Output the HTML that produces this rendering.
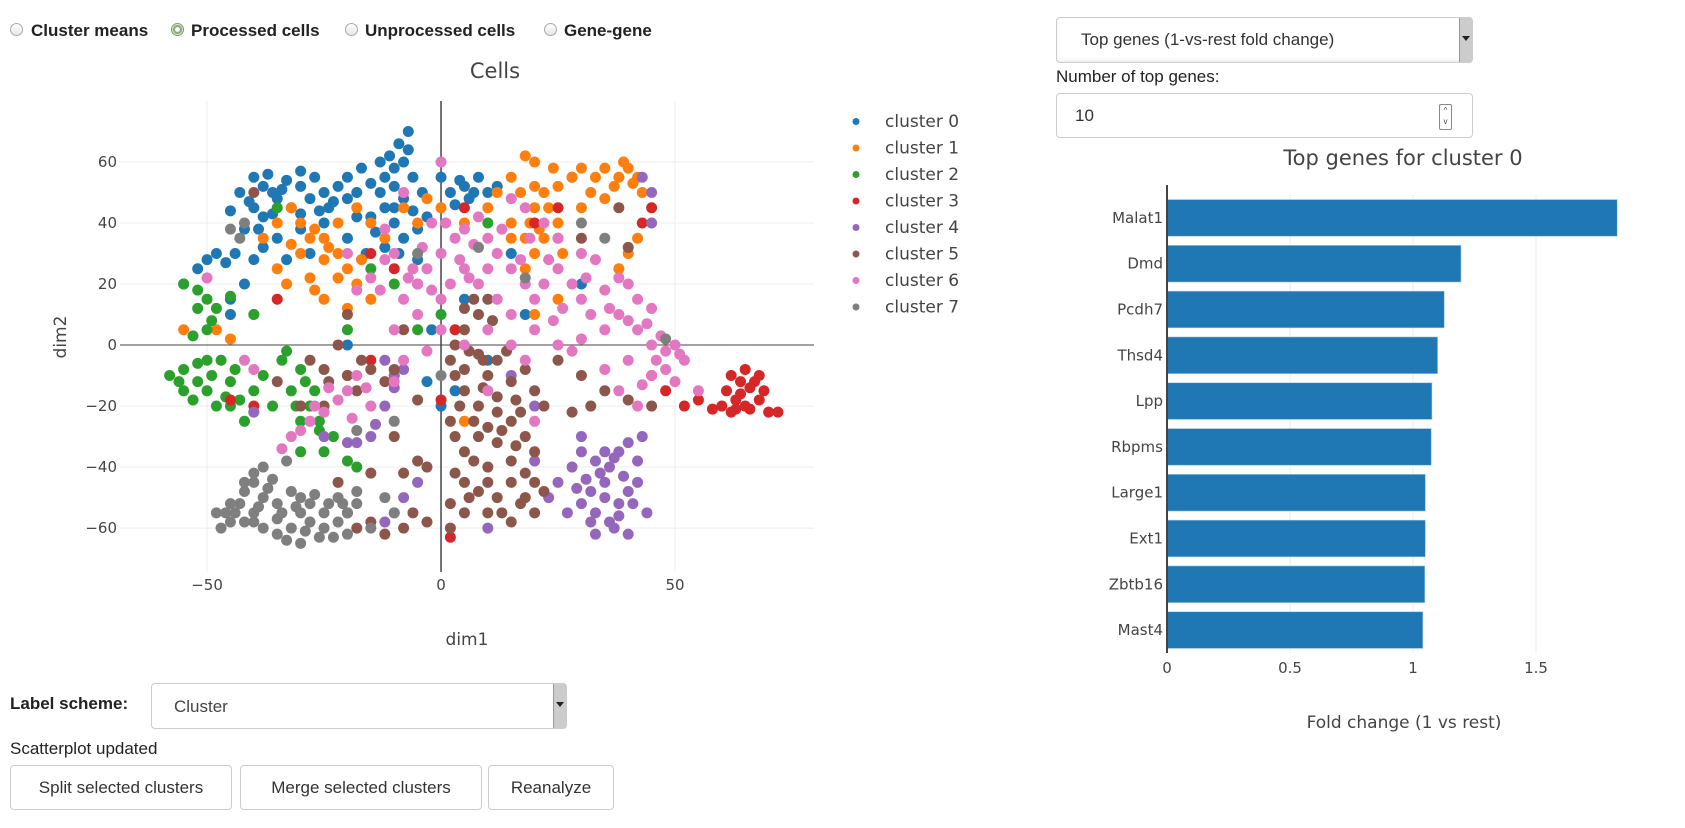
<!DOCTYPE html>
<html><head><meta charset="utf-8">
<style>
body{margin:0;width:1685px;height:828px;background:#fff;position:relative;overflow:hidden;font-family:"Liberation Sans",sans-serif;color:#333}
.abs{position:absolute}
.radio{position:absolute;top:23px;width:13px;height:13px;border:1px solid #aaa;border-radius:50%;background:linear-gradient(#fff,#e6e6e6);box-sizing:border-box}
.rlab{position:absolute;top:21px;font-weight:bold;font-size:17px;color:#222}
.box{position:absolute;border:1px solid #ccc;border-radius:4px;background:#fff;box-sizing:border-box}
.btn{position:absolute;top:765px;height:45px;border:1px solid #ccc;border-radius:4px;background:#fff;box-sizing:border-box;font-size:17px;color:#333;display:flex;align-items:center;justify-content:center}
svg text{font-family:"DejaVu Sans",sans-serif}
</style></head><body>
<div class="radio" style="left:10px"></div>
<div class="rlab" style="left:31px">Cluster means</div>
<div class="radio" style="left:171px;border-color:#7a9a6a;background:radial-gradient(circle,#fff 25%,#8fae7e 35%,#8fae7e 55%,#e8eee4 65%)"></div>
<div class="rlab" style="left:191px">Processed cells</div>
<div class="radio" style="left:345px"></div>
<div class="rlab" style="left:365px">Unprocessed cells</div>
<div class="radio" style="left:544px"></div>
<div class="rlab" style="left:564px">Gene-gene</div>

<div class="box" style="left:1056px;top:17px;width:417px;height:46px;box-shadow:inset 0 -2px 3px #eee">
 <span class="abs" style="left:24px;top:12px;font-size:17px;color:#333">Top genes (1-vs-rest fold change)</span>
 <span class="abs" style="right:0;top:0;width:12px;height:44px;background:#ccc;border-left:1px solid #999"></span>
 <span class="abs" style="right:2px;top:18px;width:0;height:0;border-left:4px solid transparent;border-right:4px solid transparent;border-top:5px solid #222"></span>
</div>
<div class="abs" style="left:1056px;top:67px;font-size:17px;color:#222">Number of top genes:</div>
<div class="box" style="left:1056px;top:93px;width:417px;height:45px">
 <span class="abs" style="left:18px;top:12px;font-size:17px;color:#333">10</span>
 <span class="abs" style="left:382px;top:10px;width:11px;height:24px;border:1px solid #888;border-radius:2px;font-size:8px;line-height:11px;text-align:center;color:#444">^<br>v</span>
</div>

<div class="abs" style="left:10px;top:694px;font-weight:bold;font-size:17px;color:#222">Label scheme:</div>
<div class="box" style="left:151px;top:683px;width:416px;height:46px">
 <span class="abs" style="left:22px;top:13px;font-size:17px;color:#444">Cluster</span>
 <span class="abs" style="right:0;top:0;width:12px;height:44px;background:#ccc;border-left:1px solid #999"></span>
 <span class="abs" style="right:2px;top:18px;width:0;height:0;border-left:4px solid transparent;border-right:4px solid transparent;border-top:5px solid #222"></span>
</div>
<div class="abs" style="left:10px;top:739px;font-size:17px;color:#222">Scatterplot updated</div>
<div class="btn" style="left:10px;width:222px">Split selected clusters</div>
<div class="btn" style="left:240px;width:242px">Merge selected clusters</div>
<div class="btn" style="left:488px;width:126px">Reanalyze</div>

<svg id="chart" class="abs" style="left:0;top:0" width="1685" height="828"></svg>

<script>
// ---- scatter data ----
const clusterNames=["cluster 0","cluster 1","cluster 2","cluster 3","cluster 4","cluster 5","cluster 6","cluster 7"];
const clusterColors=["#1f77b4","#ff7f0e","#2ca02c","#d62728","#9467bd","#8c564b","#e377c2","#7f7f7f"];
const xTicks=[-50,0,50];
const yTicks=[-60,-40,-20,0,20,40,60];
const c0=[[-40,55],[-37,56],[-33,54],[-30,52],[-35,48],[-40,45],[-43,50],[-38,42],[-32,45],[-28,48],[-25,50],[-22,52],[-20,55],[-18,50],[-15,53],[-12,55],[-10,58],[-8,60],[-11,62],[-9,66],[-7,70],[-13,60],[-6,55],[-4,50],[-8,48],[-12,45],[-15,42],[-10,40],[-5,38],[-8,35],[-12,32],[-16,30],[-20,35],[-25,40],[-30,38],[-35,35],[-28,30],[-33,28],[-38,32],[-42,38],[-45,44],[-48,30],[-50,28],[-52,25],[-55,20],[-45,15],[-42,20],[2,50],[5,52],[8,55],[6,48],[10,50],[12,52],[-3,42],[-5,28],[15,30],[25,35],[30,20],[18,10],[5,15],[-2,5],[10,-5],[0,-20],[-20,0],[-45,10],[28,55],[-18,42],[-24,45],[-36,50],[-30,57],[-3,-12],[3,-15],[-38,52],[-34,51],[-27,55],[-23,47],[-41,47],[-36,43],[-30,43],[-13,50],[-10,52],[-7,64],[-10,45],[-6,44],[-14,37],[-9,30],[-26,44],[-44,30],[-46,27],[-40,28],[0,55],[4,54],[7,50],[3,46],[-39,38],[-20,48],[-17,58]];
const c1=[[-30,40],[-27,38],[-25,35],[-22,30],[-20,25],[-25,28],[-30,30],[-35,25],[-33,20],[-28,22],[-18,20],[-15,15],[-20,12],[-25,15],[-35,40],[-38,35],[-15,40],[-12,35],[-18,45],[-8,45],[-5,40],[-3,48],[0,45],[5,40],[10,45],[15,40],[18,35],[20,45],[22,50],[25,52],[28,55],[30,58],[32,50],[38,55],[40,58],[42,55],[43,50],[35,48],[30,45],[25,40],[22,35],[20,30],[18,25],[15,35],[12,50],[18,62],[20,60],[15,55],[40,30],[38,25],[25,15],[-48,5],[-45,2],[-55,5],[-40,10],[-10,-10],[5,-25],[20,10],[42,35],[-32,45],[-22,40],[35,58],[20,52],[-28,35],[-24,32],[-32,33],[-22,22],[-27,18],[-17,28],[19,40],[23,45],[17,50],[21,38],[37,52],[41,53],[39,60],[33,55],[26,30],[24,58]];
const c2=[[-58,-10],[-55,-8],[-52,-12],[-50,-15],[-53,-18],[-48,-20],[-45,-12],[-47,-5],[-50,-5],[-55,-15],[-45,-20],[-43,-18],[-40,-15],[-38,-10],[-40,-22],[-36,-20],[-34,-5],[-30,-8],[-32,-15],[-28,-20],[-30,-25],[-25,-22],[-27,-15],[-33,-2],[-55,20],[-52,18],[-50,15],[-48,12],[-45,16],[-40,10],[-50,5],[-53,3],[-42,-25],[-25,-35],[-20,-38],[-18,-40],[-30,-35],[-10,20],[-15,25],[-20,5],[10,40],[-35,45],[-5,5],[0,10],[-26,-28],[-23,-30],[-56,-12],[-52,-6],[-49,-10],[-46,-17],[-44,-8],[-31,-20],[-29,-12],[-26,-25],[-52,12],[-49,8]];
const c3=[[62,-10],[65,-8],[68,-10],[66,-14],[63,-18],[60,-20],[58,-21],[62,-22],[65,-20],[68,-18],[70,-22],[72,-22],[64,-12],[67,-12],[55,-18],[52,-20],[48,-15],[45,-10],[-40,-20],[-45,-18],[-15,-5],[-20,-10],[-10,25],[-5,20],[20,40],[25,45],[43,40],[45,45],[2,-63],[0,-18],[-35,15],[-15,30],[5,45],[3,5],[64,-16],[61,-15],[66,-21],[69,-15],[63,-21]];
const c4=[[30,-35],[33,-38],[36,-40],[38,-35],[40,-32],[42,-38],[43,-30],[35,-45],[32,-48],[30,-52],[33,-55],[36,-58],[38,-52],[40,-48],[42,-45],[28,-40],[25,-45],[23,-50],[27,-55],[37,-60],[40,-62],[33,-62],[44,-55],[30,-30],[20,-38],[-15,-30],[-18,-32],[-12,-20],[-10,-10],[-8,-8],[-12,-5],[-20,-32],[-25,-30],[-5,-45],[-8,-50],[-10,-55],[-12,-58],[45,50],[45,40],[43,55],[15,-10],[20,-20],[10,-60],[-40,-22],[34,-42],[37,-37],[39,-43],[31,-44],[35,-50],[38,-56],[32,-58],[29,-47],[41,-52],[35,-35],[-14,-26],[-10,-14]];
const c5=[[2,-5],[5,-8],[8,-3],[10,-10],[12,-5],[15,-12],[18,-8],[20,-15],[22,-20],[5,-15],[8,-20],[12,-22],[15,-25],[18,-30],[20,-35],[15,-38],[10,-40],[5,-35],[3,-30],[2,-25],[8,-30],[12,-32],[5,-45],[8,-48],[12,-50],[15,-45],[18,-42],[22,-48],[20,-55],[15,-58],[5,-55],[2,-52],[10,-55],[5,5],[8,10],[10,15],[5,12],[-3,-40],[-5,-38],[-8,-42],[-3,-58],[-8,-60],[-12,-62],[-15,-58],[-20,-55],[-22,-45],[-28,-5],[-25,-8],[-22,0],[-20,-10],[-18,-15],[-15,-8],[-12,-12],[-25,-20],[-10,-30],[-30,-20],[-35,-12],[-20,10],[-8,5],[-40,50],[38,45],[40,32],[30,35],[35,-15],[40,-18],[45,-20],[28,-22],[32,-20],[25,-5],[30,-10],[-15,-42],[-5,-18],[17,-52],[3,-10],[6,-2],[9,-14],[12,-17],[16,-18],[4,-20],[7,-25],[10,-27],[13,-28],[16,-33],[7,-38],[3,-42],[10,-45],[6,-50],[13,-55],[2,-60],[9,-5],[14,-2],[17,-22],[3,0],[7,15],[11,8],[20,-45],[18,-50],[-10,-8],[-24,-12],[-17,-5],[-6,-55],[-18,-60]];
const c6=[[-8,15],[-5,20],[-3,25],[0,30],[3,35],[5,38],[8,42],[10,35],[12,30],[15,25],[18,20],[20,15],[15,10],[10,5],[5,0],[0,5],[-5,10],[-10,5],[-3,-2],[0,15],[8,20],[12,15],[22,20],[25,25],[28,20],[30,15],[32,10],[35,18],[38,22],[40,20],[42,15],[45,12],[40,8],[35,5],[30,2],[28,-2],[25,0],[20,5],[18,-5],[15,0],[42,5],[45,0],[48,-2],[50,0],[52,-5],[48,-8],[45,-10],[50,-12],[55,-15],[40,-5],[35,-8],[25,35],[22,40],[18,45],[15,48],[-10,30],[-12,28],[-15,22],[-18,18],[-20,-15],[-22,-18],[-25,-22],[-28,-25],[-30,-28],[-18,-10],[-15,-20],[-10,-12],[-8,-5],[-40,-8],[-42,-5],[-50,22],[-20,30],[-12,38],[-8,50],[0,60],[5,25],[-2,40],[30,30],[33,28],[38,10],[20,-25],[10,-15],[42,-20],[38,-15],[-32,-30],[-34,-34],[2,20],[4,28],[7,33],[6,22],[10,25],[13,38],[-2,18],[-6,25],[1,40],[-4,32],[-7,22],[-13,18],[17,28],[23,28],[26,12],[31,22],[36,12],[44,7],[47,3],[51,-3],[46,-5],[43,-13],[-24,-14],[-27,-20],[-19,-24],[-16,-14],[24,8],[19,35]];
const c7=[[-48,-55],[-45,-52],[-42,-48],[-40,-45],[-38,-50],[-35,-52],[-32,-48],[-30,-50],[-28,-52],[-25,-55],[-22,-58],[-20,-55],[-18,-52],[-22,-50],[-28,-58],[-32,-60],[-35,-62],[-38,-60],[-42,-58],[-45,-58],[-47,-60],[-40,-55],[-35,-57],[-30,-55],[-25,-60],[-20,-62],[-15,-60],[-18,-48],[-12,-50],[-10,-55],[-38,-40],[-40,-42],[-42,-45],[-33,-38],[-43,35],[-45,38],[-42,40],[-18,-28],[-10,-25],[0,-10],[18,22],[-5,30],[8,32],[30,40],[35,35],[48,2],[-30,-65],[-26,-63],[-44,-55],[-43,-52],[-37,-47],[-34,-55],[-31,-53],[-27,-49],[-24,-52],[-23,-63],[-29,-61],[-40,-58],[-46,-55],[-33,-64],[-39,-53],[-36,-44],[-21,-52]];
const clusterPoints=[c0,c1,c2,c3,c4,c5,c6,c7];
// ---- bar data ----
const genes=["Malat1","Dmd","Pcdh7","Thsd4","Lpp","Rbpms","Large1","Ext1","Zbtb16","Mast4"];
const foldChange=[1.83,1.195,1.127,1.10,1.077,1.074,1.05,1.05,1.048,1.04];
const barTicks=[0,0.5,1,1.5];
const barTickLabels=["0","0.5","1","1.5"];

const svg=document.getElementById('chart');
const NS='http://www.w3.org/2000/svg';
function mk(tag,attrs,parent){const e=document.createElementNS(NS,tag);for(const k in attrs)e.setAttribute(k,attrs[k]);(parent||svg).appendChild(e);return e;}

const SX={l:120,r:814,t:101,b:572,x0:-68.6,x1:79.7,y0:-74.4,y1:80};
const sx=v=>SX.l+(v-SX.x0)/(SX.x1-SX.x0)*(SX.r-SX.l);
const sy=v=>SX.b-(v-SX.y0)/(SX.y1-SX.y0)*(SX.b-SX.t);
const gs=mk('g',{});


xTicks.forEach(t=>{
 if(t!==0){const l=mk('line',{x1:sx(t),x2:sx(t),y1:SX.t,y2:SX.b,stroke:'#eee','stroke-width':1},gs);
 }
 const tx=mk('text',{x:sx(t),y:SX.b+18,'text-anchor':'middle','font-size':15,fill:'#444'},gs);
 
 tx.textContent=t<0?'\u2212'+Math.abs(t):String(t);
});
yTicks.forEach(t=>{
 if(t!==0){const l=mk('line',{x1:SX.l,x2:SX.r,y1:sy(t),y2:sy(t),stroke:'#eee','stroke-width':1},gs);
 }
 const tx=mk('text',{x:SX.l-3,y:sy(t)+5,'text-anchor':'end','font-size':15,fill:'#444'},gs);
 
 tx.textContent=t<0?'\u2212'+Math.abs(t):String(t);
});
const zx=mk('line',{x1:sx(0),x2:sx(0),y1:SX.t,y2:SX.b,stroke:'#444','stroke-width':1.5},gs);

const zy=mk('line',{x1:SX.l,x2:SX.r,y1:sy(0),y2:sy(0),stroke:'#444','stroke-width':1},gs);

clusterPoints.forEach((pts,ci)=>{
 const g=mk('g',{fill:clusterColors[ci]},gs);
 
 pts.forEach(p=>{const c=mk('circle',{cx:sx(p[0]),cy:sy(p[1]),r:5.5},g);
  });
});
let t1=mk('text',{x:495,y:78,'text-anchor':'middle','font-size':21,fill:'#444'});
t1.textContent='Cells';
let t2=mk('text',{x:467,y:645,'text-anchor':'middle','font-size':17,fill:'#444'});
t2.textContent='dim1';
let t3=mk('text',{x:66,y:337,'text-anchor':'middle','font-size':17,fill:'#444',transform:'rotate(-90 66 337)'});
t3.textContent='dim2';
clusterNames.forEach((n,i)=>{
 const g=mk('g',{});
 
 const y=121.5+i*26.5;
 mk('circle',{cx:856,cy:y,r:3.5,fill:clusterColors[i]},g);
 const t=mk('text',{x:885,y:y+5.5,'font-size':17,fill:'#444'},g);t.textContent=n;
});

const BX={l:1167,t:195,b:653,perUnit:246,right:1642};
const bx=v=>BX.l+v*BX.perUnit;
const band=(BX.b-BX.t)/genes.length;
const gb=mk('g',{});

barTicks.forEach((t,i)=>{
 if(t!==0){const l=mk('line',{x1:bx(t),x2:bx(t),y1:BX.t,y2:BX.b,stroke:'#eee','stroke-width':1},gb);
 }
 const tx=mk('text',{x:bx(t),y:BX.b+20,'text-anchor':'middle','font-size':15,fill:'#444'},gb);
 
 tx.textContent=barTickLabels[i];
});
genes.forEach((g,i)=>{
 const yc=BX.t+band*(i+0.5);
 const r=mk('rect',{x:bx(0),y:yc-band*0.4,width:bx(foldChange[i])-bx(0),height:band*0.8,fill:'#1f77b4',stroke:'#9ec5e6','stroke-width':0.6},gb);
 
 const t=mk('text',{x:BX.l-4,y:yc+5,'text-anchor':'end','font-size':15,fill:'#444'},gb);
 
 t.textContent=g;
});
const ax=mk('line',{x1:BX.l,x2:BX.l,y1:BX.t-10,y2:BX.b,stroke:'#444','stroke-width':2},gb);

let t4=mk('text',{x:1403,y:165,'text-anchor':'middle','font-size':21,fill:'#444'});
t4.textContent='Top genes for cluster 0';
let t5=mk('text',{x:1404,y:728,'text-anchor':'middle','font-size':17,fill:'#444'});
t5.textContent='Fold change (1 vs rest)';
</script>
</body></html>
